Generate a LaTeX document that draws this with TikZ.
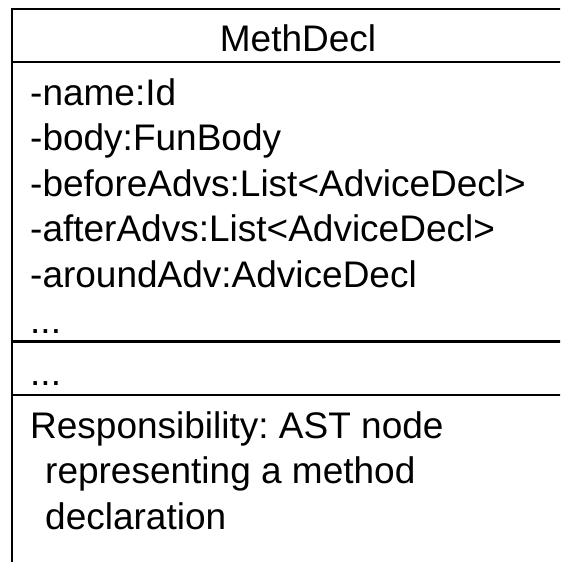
\documentclass[tikz,border=0pt]{standalone}
\usepackage{fontspec}
\setmainfont{Liberation Sans}
\frenchspacing
\begin{document}
\begin{tikzpicture}[x=1pt,y=-1pt,
  rule/.style={line width=2.8pt,draw=black},
  % multi-line nodes: the base anchor sits on the last line's baseline
  body/.style={anchor=base west,inner sep=0pt,align=left,
    font=\fontsize{37}{45.6}\selectfont},
  head/.style={anchor=base,inner sep=0pt,font=\fontsize{37}{45.6}\selectfont}]
  \useasboundingbox (0,0) rectangle (560,562);
  \clip (0,0) rectangle (560,562);
  % class frame: left edge and top edge, continuing past the visible area
  \draw[rule] (12,600) -- (12,9) -- (620,9);
  % compartment separators
  \draw[rule] (12,62) -- (620,62);
  \draw[rule] (12,341.5) -- (620,341.5);
  \draw[rule] (12,395) -- (620,395);
  % class name
  \node[head] (title) at (298,51.5) {MethDecl};
  % attributes (first baseline 105, pitch 45.6)
  \node[body] (attrs) at (30,333) {-name:Id\\
    -body:FunBody\\
    -beforeAdvs:List<AdviceDecl>\\
    -afterAdvs:List<AdviceDecl>\\
    -aroundAdv:AdviceDecl\\
    ...};
  % operations
  \node[body] (ops) at (30,385) {...};
  % responsibility note (first baseline 438)
  \node[body] (resp) at (30,529.2) {Responsibility: AST node\\
    \hspace*{15pt}representing a method\\
    \hspace*{15pt}declaration};
\end{tikzpicture}
\end{document}
